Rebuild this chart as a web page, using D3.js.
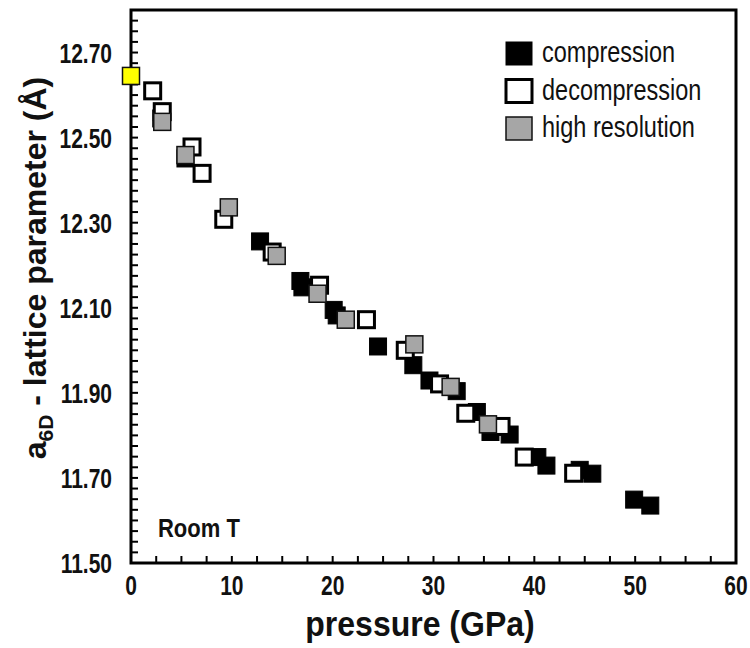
<!DOCTYPE html>
<html>
<head>
<meta charset="utf-8">
<script src="https://cdn.jsdelivr.net/npm/d3@7"></script>
<style>
  body { margin: 0; background: #fff; }
  svg text { font-family: Arial, "Liberation Sans", sans-serif; }
</style>
</head>
<body>
<svg id="chart" width="750" height="648"></svg>
<script>
// ---------------- data (pressure GPa, lattice parameter Å) ----------------
var compP = [3.0, 5.4, 12.8, 16.8, 17.0, 20.1, 20.4, 24.5, 28.0, 29.6, 32.3, 34.3, 35.65, 37.55, 40.3, 41.2, 44.5, 45.75, 49.9, 51.5]
var compA = [12.545, 12.451, 12.256, 12.163, 12.148, 12.095, 12.082, 12.009, 11.965, 11.929, 11.904, 11.855, 11.808, 11.802, 11.749, 11.729, 11.719, 11.710, 11.649, 11.635]

var decP = [2.15, 3.1, 6.05, 7.05, 9.2, 14.0, 18.7, 23.35, 27.2, 30.6, 33.2, 36.7, 39.0, 43.9]
var decA = [12.610, 12.561, 12.478, 12.416, 12.308, 12.231, 12.153, 12.072, 12.000, 11.921, 11.852, 11.821, 11.749, 11.711]

var hiP = [3.1, 5.4, 9.7, 14.45, 18.5, 21.3, 28.1, 31.7, 35.4]
var hiA = [12.537, 12.459, 12.336, 12.222, 12.133, 12.072, 12.014, 11.914, 11.826]

var startP = [0]
var startA = [12.645]

var xLabels = [0, 10, 20, 30, 40, 50, 60]
var yLabels = [11.5, 11.7, 11.9, 12.1, 12.3, 12.5, 12.7]
var legendNames = ["compression", "decompression", "high resolution"]

// ---------------- layout ----------------
var svg = d3.select("#chart")
var margin = {top: 10, right: 14, bottom: 85, left: 131}
var W = 750, H = 648

var x = d3.scaleLinear().domain([0, 60]).range([margin.left, W - margin.right])
var y = d3.scaleLinear().domain([11.5, 12.8]).range([H - margin.bottom, margin.top])

var styles = {
  comp: {fill: "#000", stroke: "#000", sw: 1, size: 17},
  dec:  {fill: "#fff", stroke: "#000", sw: 3, size: 16},
  hi:   {fill: "#a6a6a6", stroke: "#111", sw: 1.5, size: 17},
  start:{fill: "#ffff00", stroke: "#111", sw: 1.5, size: 17}
}

// text with vertical stretch (the source font looks tall and narrow)
function label(parent, tx, ty, str, fs, sy, anchor, weight) {
  return parent.append("text")
    .attr("transform", "translate(" + tx + "," + ty + ") scale(1," + sy + ")")
    .attr("text-anchor", anchor || "start")
    .attr("font-size", fs).attr("font-weight", weight || "normal").attr("fill", "#111")
    .text(str)
}

// frame
svg.append("rect")
  .attr("x", x(0)).attr("y", y(12.8))
  .attr("width", x(60) - x(0)).attr("height", y(11.5) - y(12.8))
  .attr("fill", "none").attr("stroke", "#000").attr("stroke-width", 3)

// minor ticks, pointing inside
var xTicks = d3.range(0, 60.01, 2.5)
var yTicks = d3.range(0, 53).map(i => 11.5 + i * 0.025)

svg.append("g").selectAll("line").data(xTicks).join("line")
  .attr("x1", d => x(d)).attr("x2", d => x(d))
  .attr("y1", y(11.5)).attr("y2", y(11.5) - 7)
  .attr("stroke", "#000").attr("stroke-width", 2)

svg.append("g").selectAll("line").data(yTicks).join("line")
  .attr("x1", x(0)).attr("x2", x(0) + 7)
  .attr("y1", d => y(d)).attr("y2", d => y(d))
  .attr("stroke", "#000").attr("stroke-width", 2)

// tick labels
var gx = svg.append("g")
xLabels.forEach(d => label(gx, x(d), y(11.5) + 32, d, 21, 1.3, "middle", "bold"))
var gy = svg.append("g")
yLabels.forEach(d => label(gy, x(0) - 19, y(d) + 10, d.toFixed(2), 21, 1.3, "end", "bold"))

// markers
function drawSeries(ps, as, st) {
  svg.append("g").selectAll("rect").data(ps.map((p, i) => [p, as[i]])).join("rect")
    .attr("x", d => x(d[0]) - st.size / 2)
    .attr("y", d => y(d[1]) - st.size / 2)
    .attr("width", st.size).attr("height", st.size)
    .attr("fill", st.fill).attr("stroke", st.stroke).attr("stroke-width", st.sw)
}
drawSeries(compP, compA, styles.comp)
drawSeries(decP, decA, styles.dec)
drawSeries(hiP, hiA, styles.hi)
drawSeries(startP, startA, styles.start)

// legend
var leg = svg.append("g").attr("transform", "translate(506,42)")
var legStyles = [styles.comp, styles.dec, styles.hi]
legendNames.forEach((name, i) => {
  var st = legStyles[i]
  leg.append("rect")
    .attr("x", 0).attr("y", i * 37.5)
    .attr("width", 26).attr("height", 23)
    .attr("fill", st.fill).attr("stroke", st.stroke).attr("stroke-width", st.sw)
  label(leg, 36, i * 37.5 + 20, name, 23.5, 1.22)
})

// Room T
label(svg, 158, 537, "Room T", 22, 1.15, "start", "bold")

// axis titles
label(svg, 420, 636, "pressure (GPa)", 32, 1.08, "middle", "bold")

var yt = svg.append("text")
  .attr("transform", "translate(46,268) rotate(-90)")
  .attr("text-anchor", "middle")
  .attr("font-size", 32).attr("font-weight", "bold").attr("fill", "#111")
yt.append("tspan").text("a")
yt.append("tspan").attr("font-size", 21).attr("dy", 7).text("6D")
yt.append("tspan").attr("dy", -7).text(" - lattice parameter (Å)")
</script>
</body>
</html>
